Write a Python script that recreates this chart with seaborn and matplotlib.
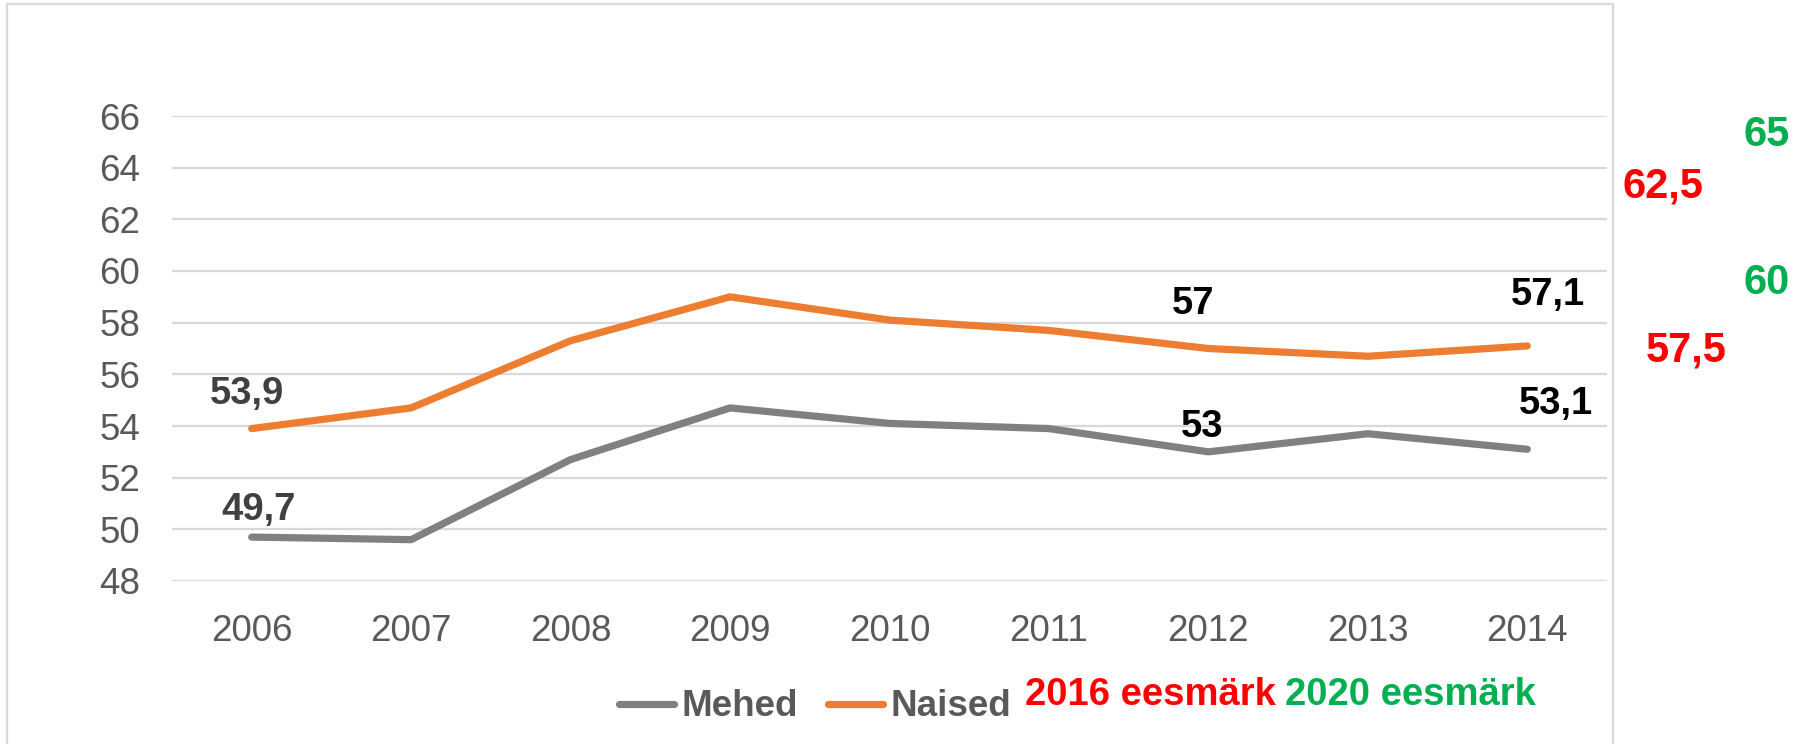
import matplotlib
matplotlib.use("Agg")
import matplotlib.pyplot as plt
from matplotlib.patches import Rectangle
import seaborn as sns
import pandas as pd
import numpy as np

# ---- data ----
years = ["2006", "2007", "2008", "2009", "2010", "2011", "2012", "2013", "2014"]
mehed = [49.7, 49.6, 52.7, 54.7, 54.1, 53.9, 53.0, 53.7, 53.1]
naised = [53.9, 54.7, 57.3, 59.0, 58.1, 57.7, 57.0, 56.7, 57.1]
series_names = ["Mehed", "Naised"]
y_ticks = [48, 50, 52, 54, 56, 58, 60, 62, 64, 66]
goal_2016_label = "2016 eesmärk"
goal_2020_label = "2020 eesmärk"
goal_2016_values = ["62,5", "57,5"]
goal_2020_values = ["65", "60"]

# labelled points: (series, year index, text, colour, dx px, dy px)
point_labels = [
    ("Naised", 0, "53,9", "#404040", -5, 35),
    ("Mehed", 0, "49,7", "#404040", 7, 27),
    ("Naised", 6, "57", "#000000", -15, 44),
    ("Naised", 8, "57,1", "#000000", 21, 51),
    ("Mehed", 6, "53", "#000000", -6, 25),
    ("Mehed", 8, "53,1", "#000000", 29, 45),
]

df = pd.DataFrame({
    "pos": list(range(len(years))) * 2,
    "value": mehed + naised,
    "series": [series_names[0]] * len(years) + [series_names[1]] * len(years),
})

sns.set_theme(style="white")
plt.rcParams["font.family"] = ["Liberation Sans", "DejaVu Sans"]

W, H = 1800, 744
fig = plt.figure(figsize=(W / 100, H / 100), dpi=100)
ax = fig.add_axes([172 / W, 1 - 581 / H, (1607 - 172) / W, (581 - 116) / H])

palette = {"Mehed": "#808080", "Naised": "#ED7D31"}
sns.lineplot(data=df, x="pos", y="value", hue="series", palette=palette,
             linewidth=5.2, ax=ax, legend=True, sort=False)
for ln in ax.lines:
    ln.set_solid_capstyle("round")
    ln.set_solid_joinstyle("round")

handles, labels = ax.get_legend_handles_labels()
ax.get_legend().remove()

ax.set_xlim(-0.5, len(years) - 0.5)
ax.set_ylim(48, 66)
ax.set_xticks(range(len(years)))
ax.set_xticklabels(years)
ax.set_yticks(y_ticks)
ax.set_yticklabels([str(t) for t in y_ticks])
ax.set_xlabel("")
ax.set_ylabel("")
ax.grid(axis="y", color="#D9D9D9", linewidth=1.6)
ax.grid(axis="x", visible=False)
ax.set_axisbelow(True)
for s in ax.spines.values():
    s.set_visible(False)
ax.tick_params(axis="both", length=0, labelsize=26.5, labelcolor="#595959")
ax.tick_params(axis="y", pad=23)
ax.tick_params(axis="x", pad=24)

vals = {"Mehed": mehed, "Naised": naised}
for ser, i, txt, col, dx, dy in point_labels:
    ax.annotate(txt, xy=(i, vals[ser][i]), xytext=(dx, dy),
                textcoords="offset pixels", ha="center", va="center",
                fontsize=27.5, fontweight="bold", color=col)

# legend
leg = fig.legend(handles, labels, loc="center", bbox_to_anchor=(815 / W, 1 - 707 / H),
                 ncol=2, frameon=False, handlelength=1.5, handletextpad=0.2,
                 columnspacing=0.8, prop={"size": 26.5, "weight": "bold"})
for t in leg.get_texts():
    t.set_color("#595959")
for lh in leg.get_lines():
    lh.set_linewidth(5.2)
    lh.set_solid_capstyle("round")

fig.text(1150 / W, 1 - 695 / H, goal_2016_label, ha="center", va="center",
         fontsize=27.5, fontweight="bold", color="#FF0000")
fig.text(1410 / W, 1 - 695 / H, goal_2020_label, ha="center", va="center",
         fontsize=27.5, fontweight="bold", color="#00B050")

# goal values on the right
fig.text(1663 / W, 1 - 186 / H, goal_2016_values[0], ha="center", va="center",
         fontsize=30, fontweight="bold", color="#FF0000")
fig.text(1686 / W, 1 - 350 / H, goal_2016_values[1], ha="center", va="center",
         fontsize=30, fontweight="bold", color="#FF0000")
fig.text(1767 / W, 1 - 135 / H, goal_2020_values[0], ha="center", va="center",
         fontsize=30, fontweight="bold", color="#00B050")
fig.text(1767 / W, 1 - 283 / H, goal_2020_values[1], ha="center", va="center",
         fontsize=30, fontweight="bold", color="#00B050")

# chart frame
fig.patches.append(Rectangle((7 / W, -0.1), (1613 - 7) / W, 1.1 - 4 / H,
                             transform=fig.transFigure, fill=False,
                             edgecolor="#D9D9D9", linewidth=1.6, zorder=0))

fig.savefig("out.png", dpi=100)
